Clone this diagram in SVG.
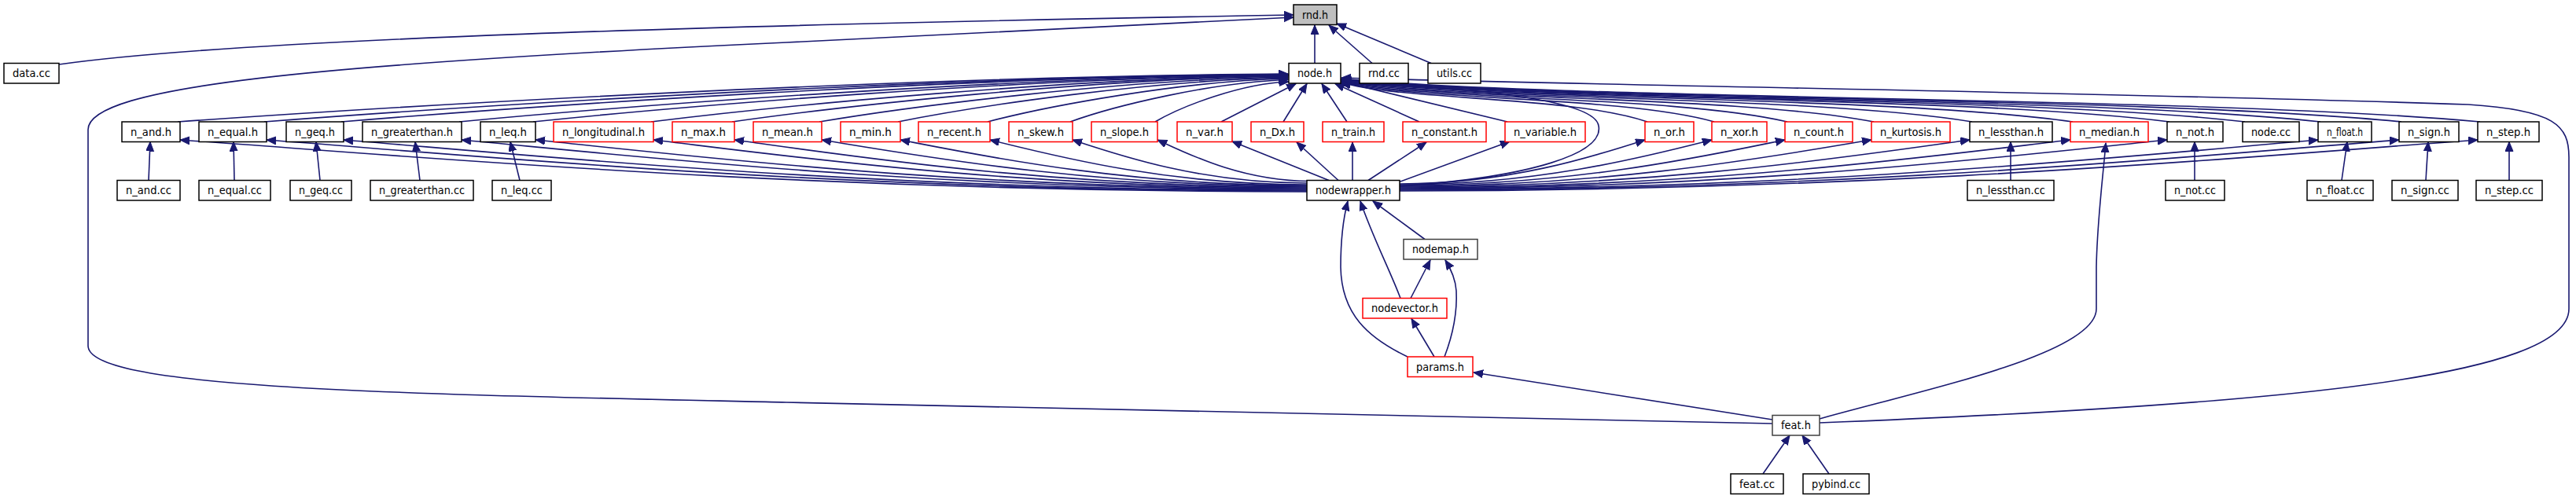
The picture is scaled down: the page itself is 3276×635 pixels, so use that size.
<svg xmlns="http://www.w3.org/2000/svg" width="3276" height="635" viewBox="0 0 3276 635">
<style>
.n rect{fill:#fff;stroke:#000;stroke-width:1.5}
.n.r rect{stroke:#f00}
.n.g rect{stroke:#404040}
#rnd_h rect{fill:#bfbfbf}
text{font-family:"DejaVu Sans",sans-serif;font-size:14.5px;text-anchor:middle;fill:#000}
#edges path{fill:none;stroke:#191970;stroke-width:1.6;marker-end:url(#ah)}
</style>
<defs>
<marker id="ah" markerUnits="userSpaceOnUse" markerWidth="14" markerHeight="12" refX="12" refY="5" orient="auto"><path d="M0,0 L12,5 L0,10 z" fill="#191970" stroke="#191970" stroke-width="1"/></marker>
</defs>
<rect width="3276" height="635" fill="#fff"/>
<g id="edges">
<path d="M1672,80.5 L1672,32"/>
<path d="M1745,80.5 L1690,32"/>
<path d="M1820,80.5 L1700,30"/>
<path d="M75,82 C300,50 900,32 1645,19"/>
<path d="M2254,539 L1000,512 C500,501 112,495 112,440 L112,165 C112,110 400,82 1000,54 L1645,22"/>
<path d="M2314,538 C2900,515 3267,480 3267,393 L3267,200 C3267,160 3250,140 3139,133 C2700,118 2100,110 1706,99"/>
<path d="M2314,533 C2450,495 2666,450 2666,393 L2666,340 C2667,280 2675,220 2678,182"/>
<path d="M2254,534 L1874,474"/>
<path d="M2242,603 L2276,554"/>
<path d="M2326,603 L2292,554"/>
<path d="M1824,454 L1795,405.5"/>
<path d="M1837,454 C1850,420 1853,390 1852,370 C1851,355 1845,342 1838,331"/>
<path d="M1790,454 C1740,430 1706,400 1705,340 C1705,300 1709,275 1714,256"/>
<path d="M1781,379.5 C1768,345 1745,300 1730,256"/>
<path d="M1794,379.5 L1819,331"/>
<path d="M1812,304.5 L1746,256"/>
<path d="M1780,237 C1950,225 2040,195 2033,160 C2028,130 1900,112 1704,106.5"/>
<path d="M189,229.5 L191,180.5"/>
<path d="M298,229.5 L297,180.5"/>
<path d="M407,229.5 L402,180.5"/>
<path d="M534,229.5 L528,180.5"/>
<path d="M661,229.5 L649,180.5"/>
<path d="M2557,229.5 L2557,180.5"/>
<path d="M2791,229.5 L2791,180.5"/>
<path d="M2978,229.5 L2985,180.5"/>
<path d="M3085,229.5 L3088,180.5"/>
<path d="M3191,229.5 L3191,180.5"/>
<path d="M226,155 C508,135 1144,97 1638,94"/>
<path d="M336,155 C596,135 1182,97.5 1638,94.5"/>
<path d="M434,155 C675,135 1217,98 1638,95"/>
<path d="M584,155 C795,135 1269,98.5 1638,95.5"/>
<path d="M678,155 C870,135 1302,99 1638,96"/>
<path d="M828,155 C990,135 1354,99.5 1638,96.5"/>
<path d="M931,155 C1072,135 1391,100 1638,97"/>
<path d="M1042,155 C1161,135 1429,101 1638,98"/>
<path d="M1142,155 C1241,135 1464,102 1638,99"/>
<path d="M1256,155 C1332,135 1504,103 1638,100"/>
<path d="M1361,155 C1416,135 1541,104.5 1638,101.5"/>
<path d="M1469,155 C1503,135 1579,106 1639,104"/>
<path d="M1553,155 L1648,106.5"/>
<path d="M1632,155 L1662,106.5"/>
<path d="M1713,155 L1681,106.5"/>
<path d="M1805,155 L1698,106.5"/>
<path d="M1917,155 L1706,104"/>
<path d="M2095,155 C1998,122 1784,128 1706,105"/>
<path d="M2180,155 C2062,122 1801,128 1706,104.5"/>
<path d="M2273,155 C2131,122 1819,128 1706,104"/>
<path d="M2383,155 C2214,122 1841,128 1706,103.5"/>
<path d="M2508,155 C2308,122 1866,128 1706,103"/>
<path d="M2636,155 C2404,122 1892,128 1706,102.5"/>
<path d="M2759,155 C2496,122 1917,128 1706,102"/>
<path d="M2855,155 C2568,122 1936,128 1706,101.5"/>
<path d="M2951,155 C2640,122 1955,128 1706,101"/>
<path d="M3054,155 C2717,122 1976,128 1706,100.5"/>
<path d="M3154,155 C2792,122 1996,128 1706,100"/>
<path d="M1662,244 C1017,244 516,198 229,178"/>
<path d="M1662,243 C1067,243 604,198 339,178"/>
<path d="M1662,242 C1111,242 682,198 437,178"/>
<path d="M1662,241 C1178,241 802,198 587,178"/>
<path d="M1662,240 C1221,240 877,198 681,178"/>
<path d="M1662,239 C1288,239 997,198 831,178"/>
<path d="M1662,238 C1334,238 1080,198 934,178"/>
<path d="M1662,237 C1384,237 1168,198 1045,178"/>
<path d="M1662,236 C1429,236 1248,198 1145,178"/>
<path d="M1662,235 C1481,235 1340,198 1259,178"/>
<path d="M1662,233 C1528,233 1424,198 1364,178"/>
<path d="M1666,230.5 C1579,230.5 1511,196 1472,178"/>
<path d="M1690,229.5 L1567,180"/>
<path d="M1702,229.5 L1649,181"/>
<path d="M1720,229.5 L1720,181"/>
<path d="M1740,229.5 L1814,181"/>
<path d="M1778,232 L1920,180"/>
<path d="M1780,234 C1920,234 2030,198 2092,178"/>
<path d="M1780,235 C1959,235 2098,198 2177,178"/>
<path d="M1780,236 C2001,236 2172,198 2270,178"/>
<path d="M1780,237 C2050,237 2260,198 2380,178"/>
<path d="M1780,238 C2106,238 2360,198 2505,178"/>
<path d="M1780,239 C2164,239 2462,198 2633,178"/>
<path d="M1780,240 C2219,240 2561,198 2756,178"/>
<path d="M1780,241 C2306,241 2714,198 2948,178"/>
<path d="M1780,242 C2352,242 2797,198 3051,178"/>
<path d="M1780,243 C2397,243 2877,198 3151,178"/>
</g>
<g id="rnd_h" class="n"><rect x="1645" y="6" width="55" height="25.5"/><text x="1672.5" y="23.5" textLength="33" lengthAdjust="spacingAndGlyphs">rnd.h</text></g>
<g id="data_cc" class="n"><rect x="5" y="80.5" width="70" height="25.5"/><text x="40" y="98" textLength="48" lengthAdjust="spacingAndGlyphs">data.cc</text></g>
<g id="node_h" class="n"><rect x="1639" y="80.5" width="66" height="25.5"/><text x="1672" y="98" textLength="44" lengthAdjust="spacingAndGlyphs">node.h</text></g>
<g id="rnd_cc" class="n"><rect x="1729" y="80.5" width="62" height="25.5"/><text x="1760" y="98" textLength="40" lengthAdjust="spacingAndGlyphs">rnd.cc</text></g>
<g id="utils_cc" class="n"><rect x="1816" y="80.5" width="67" height="25.5"/><text x="1849.5" y="98" textLength="45" lengthAdjust="spacingAndGlyphs">utils.cc</text></g>
<g id="n_and_h" class="n"><rect x="155" y="155" width="74" height="25.5"/><text x="192" y="172.5" textLength="52" lengthAdjust="spacingAndGlyphs">n_and.h</text></g>
<g id="n_equal_h" class="n"><rect x="253" y="155" width="86" height="25.5"/><text x="296" y="172.5" textLength="64" lengthAdjust="spacingAndGlyphs">n_equal.h</text></g>
<g id="n_geq_h" class="n"><rect x="364" y="155" width="73" height="25.5"/><text x="400.5" y="172.5" textLength="51" lengthAdjust="spacingAndGlyphs">n_geq.h</text></g>
<g id="n_greaterthan_h" class="n"><rect x="461" y="155" width="126" height="25.5"/><text x="524" y="172.5" textLength="104" lengthAdjust="spacingAndGlyphs">n_greaterthan.h</text></g>
<g id="n_leq_h" class="n"><rect x="611" y="155" width="70" height="25.5"/><text x="646" y="172.5" textLength="48" lengthAdjust="spacingAndGlyphs">n_leq.h</text></g>
<g id="n_longitudinal_h" class="n r"><rect x="704" y="155" width="127" height="25.5"/><text x="767.5" y="172.5" textLength="105" lengthAdjust="spacingAndGlyphs">n_longitudinal.h</text></g>
<g id="n_max_h" class="n r"><rect x="855" y="155" width="79" height="25.5"/><text x="894.5" y="172.5" textLength="57" lengthAdjust="spacingAndGlyphs">n_max.h</text></g>
<g id="n_mean_h" class="n r"><rect x="958" y="155" width="87" height="25.5"/><text x="1001.5" y="172.5" textLength="65" lengthAdjust="spacingAndGlyphs">n_mean.h</text></g>
<g id="n_min_h" class="n r"><rect x="1069" y="155" width="76" height="25.5"/><text x="1107" y="172.5" textLength="54" lengthAdjust="spacingAndGlyphs">n_min.h</text></g>
<g id="n_recent_h" class="n r"><rect x="1168" y="155" width="91" height="25.5"/><text x="1213.5" y="172.5" textLength="69" lengthAdjust="spacingAndGlyphs">n_recent.h</text></g>
<g id="n_skew_h" class="n r"><rect x="1283" y="155" width="81" height="25.5"/><text x="1323.5" y="172.5" textLength="59" lengthAdjust="spacingAndGlyphs">n_skew.h</text></g>
<g id="n_slope_h" class="n r"><rect x="1388" y="155" width="84" height="25.5"/><text x="1430" y="172.5" textLength="62" lengthAdjust="spacingAndGlyphs">n_slope.h</text></g>
<g id="n_var_h" class="n r"><rect x="1497" y="155" width="70" height="25.5"/><text x="1532" y="172.5" textLength="48" lengthAdjust="spacingAndGlyphs">n_var.h</text></g>
<g id="n_Dx_h" class="n r"><rect x="1591" y="155" width="67" height="25.5"/><text x="1624.5" y="172.5" textLength="45" lengthAdjust="spacingAndGlyphs">n_Dx.h</text></g>
<g id="n_train_h" class="n r"><rect x="1682" y="155" width="78" height="25.5"/><text x="1721" y="172.5" textLength="56" lengthAdjust="spacingAndGlyphs">n_train.h</text></g>
<g id="n_constant_h" class="n r"><rect x="1784" y="155" width="106" height="25.5"/><text x="1837" y="172.5" textLength="84" lengthAdjust="spacingAndGlyphs">n_constant.h</text></g>
<g id="n_variable_h" class="n r"><rect x="1914" y="155" width="102" height="25.5"/><text x="1965" y="172.5" textLength="80" lengthAdjust="spacingAndGlyphs">n_variable.h</text></g>
<g id="n_or_h" class="n r"><rect x="2092" y="155" width="62" height="25.5"/><text x="2123" y="172.5" textLength="40" lengthAdjust="spacingAndGlyphs">n_or.h</text></g>
<g id="n_xor_h" class="n r"><rect x="2177" y="155" width="70" height="25.5"/><text x="2212" y="172.5" textLength="48" lengthAdjust="spacingAndGlyphs">n_xor.h</text></g>
<g id="n_count_h" class="n r"><rect x="2270" y="155" width="86" height="25.5"/><text x="2313" y="172.5" textLength="64" lengthAdjust="spacingAndGlyphs">n_count.h</text></g>
<g id="n_kurtosis_h" class="n r"><rect x="2380" y="155" width="100" height="25.5"/><text x="2430" y="172.5" textLength="78" lengthAdjust="spacingAndGlyphs">n_kurtosis.h</text></g>
<g id="n_lessthan_h" class="n"><rect x="2505" y="155" width="105" height="25.5"/><text x="2557.5" y="172.5" textLength="83" lengthAdjust="spacingAndGlyphs">n_lessthan.h</text></g>
<g id="n_median_h" class="n r"><rect x="2633" y="155" width="99" height="25.5"/><text x="2682.5" y="172.5" textLength="77" lengthAdjust="spacingAndGlyphs">n_median.h</text></g>
<g id="n_not_h" class="n"><rect x="2756" y="155" width="71" height="25.5"/><text x="2791.5" y="172.5" textLength="49" lengthAdjust="spacingAndGlyphs">n_not.h</text></g>
<g id="node_cc" class="n"><rect x="2852" y="155" width="72" height="25.5"/><text x="2888" y="172.5" textLength="50" lengthAdjust="spacingAndGlyphs">node.cc</text></g>
<g id="n_float_h" class="n"><rect x="2948" y="155" width="68" height="25.5"/><text x="2982" y="172.5" textLength="46" lengthAdjust="spacingAndGlyphs">n_float.h</text></g>
<g id="n_sign_h" class="n"><rect x="3051" y="155" width="76" height="25.5"/><text x="3089" y="172.5" textLength="54" lengthAdjust="spacingAndGlyphs">n_sign.h</text></g>
<g id="n_step_h" class="n"><rect x="3151" y="155" width="78" height="25.5"/><text x="3190" y="172.5" textLength="56" lengthAdjust="spacingAndGlyphs">n_step.h</text></g>
<g id="n_and_cc" class="n"><rect x="149" y="229.5" width="80" height="25.5"/><text x="189" y="247" textLength="58" lengthAdjust="spacingAndGlyphs">n_and.cc</text></g>
<g id="n_equal_cc" class="n"><rect x="253" y="229.5" width="91" height="25.5"/><text x="298.5" y="247" textLength="69" lengthAdjust="spacingAndGlyphs">n_equal.cc</text></g>
<g id="n_geq_cc" class="n"><rect x="369" y="229.5" width="78" height="25.5"/><text x="408" y="247" textLength="56" lengthAdjust="spacingAndGlyphs">n_geq.cc</text></g>
<g id="n_greaterthan_cc" class="n"><rect x="471" y="229.5" width="131" height="25.5"/><text x="536.5" y="247" textLength="109" lengthAdjust="spacingAndGlyphs">n_greaterthan.cc</text></g>
<g id="n_leq_cc" class="n"><rect x="626" y="229.5" width="75" height="25.5"/><text x="663.5" y="247" textLength="53" lengthAdjust="spacingAndGlyphs">n_leq.cc</text></g>
<g id="nodewrapper_h" class="n"><rect x="1662" y="229.5" width="118" height="25.5"/><text x="1721" y="247" textLength="96" lengthAdjust="spacingAndGlyphs">nodewrapper.h</text></g>
<g id="n_lessthan_cc" class="n"><rect x="2502" y="229.5" width="110" height="25.5"/><text x="2557" y="247" textLength="88" lengthAdjust="spacingAndGlyphs">n_lessthan.cc</text></g>
<g id="n_not_cc" class="n"><rect x="2754" y="229.5" width="75" height="25.5"/><text x="2791.5" y="247" textLength="53" lengthAdjust="spacingAndGlyphs">n_not.cc</text></g>
<g id="n_float_cc" class="n"><rect x="2934" y="229.5" width="84" height="25.5"/><text x="2976" y="247" textLength="62" lengthAdjust="spacingAndGlyphs">n_float.cc</text></g>
<g id="n_sign_cc" class="n"><rect x="3042" y="229.5" width="84" height="25.5"/><text x="3084" y="247" textLength="62" lengthAdjust="spacingAndGlyphs">n_sign.cc</text></g>
<g id="n_step_cc" class="n"><rect x="3149" y="229.5" width="84" height="25.5"/><text x="3191" y="247" textLength="62" lengthAdjust="spacingAndGlyphs">n_step.cc</text></g>
<g id="nodemap_h" class="n g"><rect x="1785" y="304.5" width="94" height="25.5"/><text x="1832" y="322" textLength="72" lengthAdjust="spacingAndGlyphs">nodemap.h</text></g>
<g id="nodevector_h" class="n r"><rect x="1733" y="379.5" width="107" height="25.5"/><text x="1786.5" y="397" textLength="85" lengthAdjust="spacingAndGlyphs">nodevector.h</text></g>
<g id="params_h" class="n r"><rect x="1790" y="454" width="83" height="25.5"/><text x="1831.5" y="471.5" textLength="61" lengthAdjust="spacingAndGlyphs">params.h</text></g>
<g id="feat_h" class="n g"><rect x="2254" y="528.5" width="60" height="25.5"/><text x="2284" y="546" textLength="38" lengthAdjust="spacingAndGlyphs">feat.h</text></g>
<g id="feat_cc" class="n"><rect x="2201" y="603" width="67" height="25.5"/><text x="2234.5" y="620.5" textLength="45" lengthAdjust="spacingAndGlyphs">feat.cc</text></g>
<g id="pybind_cc" class="n"><rect x="2293" y="603" width="84" height="25.5"/><text x="2335" y="620.5" textLength="62" lengthAdjust="spacingAndGlyphs">pybind.cc</text></g>
</svg>
